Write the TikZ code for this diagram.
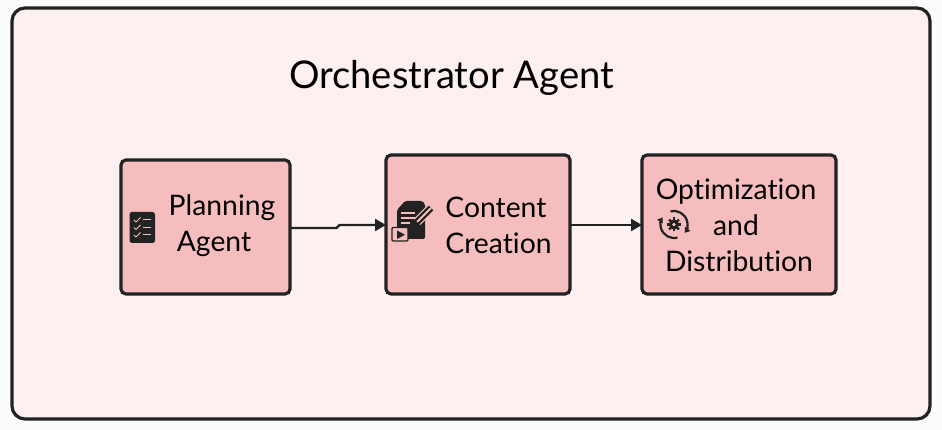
\documentclass[tikz,border=0pt]{standalone}
\usepackage{fontspec}
\setmainfont[Ligatures=NoCommon]{Lato}
\usetikzlibrary{arrows.meta}
\definecolor{ink}{HTML}{222222}
\definecolor{pane}{HTML}{FDF0F0}
\definecolor{boxfill}{HTML}{F5BDBD}
\tikzset{
  x=1pt,y=-1pt,
  panel/.style={draw=ink,line width=3.2pt,fill=pane,rounded corners=13pt},
  agentbox/.style={draw=ink,line width=3.2pt,fill=boxfill,rounded corners=5pt,inner sep=0pt},
  link/.style={draw=ink,line width=2.4pt,-{Triangle[length=11pt,width=12pt]}},
  lbl/.style={text=black,font=\fontsize{28.3}{36}\selectfont,align=center,inner sep=0pt},
  iconline/.style={draw=boxfill,line width=1pt},
  cyclearc/.style={draw=ink,line width=2.2pt,-{Triangle[length=5pt,width=6.5pt]}},
}
\begin{document}
\begin{tikzpicture}
\useasboundingbox (0,0) rectangle (942,430);
\fill[white!99!black] (0,0) rectangle (942,430);
\draw[panel] (12,8) rectangle (930,419);
\node[text=black,font=\fontsize{38.2}{42}\selectfont,inner sep=0pt] (title) at (451.5,77.5) {Orchestrator Agent};
% boxes
\draw[agentbox] (121,160) rectangle (290,294);
\coordinate (planR) at (290,228);
\draw[agentbox] (386,155) rectangle (570,294);
\coordinate (contL) at (386,225); \coordinate (contR) at (570,225);
\draw[agentbox] (642,155) rectangle (836,294);
\coordinate (optL) at (642,225);
% labels
\node[lbl] (plan) at (222,226) {Planning\\\mbox{Agent\hspace{16pt}}};
\node[lbl,align=left] (cont) at (498.5,225) {Content\\Creation};
\node[lbl] (opt) at (736,225) {Optimization\\and\\\mbox{\hspace{6pt}Distribution}};
% connectors
\coordinate (kink) at (338,225);
\draw[link,rounded corners=1.5pt] (planR) -- (338,228) -- (kink) -- (contL);
\draw[link] (contR) -- (optL);
% checklist icon
\fill[ink,rounded corners=2.5pt] (129.5,212) rectangle (155,243);
\foreach \y in {220,227.5,235}{
  \draw[iconline] (134,\y) -- (136,{\y+2}) -- (140.5,{\y-2.5});
  \draw[iconline] (143,\y) -- (151,\y);
}
% document icon
\fill[ink,rounded corners=1.5pt] (405,201) -- (422,201) -- (425,204) -- (425,239) -- (397,239) -- (397,210) -- cycle;
\foreach \y/\e in {213/415,218/415,223/410}{
  \draw[draw=boxfill,line width=1.4pt] (401,\y) -- (\e,\y);
}
\draw[draw=boxfill,line width=9pt] (417,222) -- (431,208);
\draw[draw=ink,line width=6.5pt] (416.5,222.5) -- (431,208);
\draw[draw=boxfill,line width=2pt] (417,222) -- (431,208);
\fill[ink] (412.5,226) -- (413.5,219) -- (419.5,225) -- cycle;
\draw[draw=ink,line width=1.4pt,fill=boxfill,rounded corners=1pt] (392,227.5) rectangle (408,241);
\fill[ink] (397,230.5) -- (405,234.8) -- (397,239) -- cycle;
% gear cycle icon
\coordinate (gc) at (674,224.5);
\draw[cyclearc] (gc) ++(105:13.5pt) arc[start angle=105,end angle=-38,radius=13.5pt];
\draw[cyclearc] (gc) ++(-75:13.5pt) arc[start angle=-75,end angle=-212,radius=13.5pt];
\fill[ink] (gc) circle (5pt);
\foreach \a in {0,45,...,315}{
  \draw[ink,line width=2.2pt] (gc) -- ++(\a:7pt);
}
\fill[boxfill] (gc) circle (1.8pt);
\end{tikzpicture}
\end{document}
